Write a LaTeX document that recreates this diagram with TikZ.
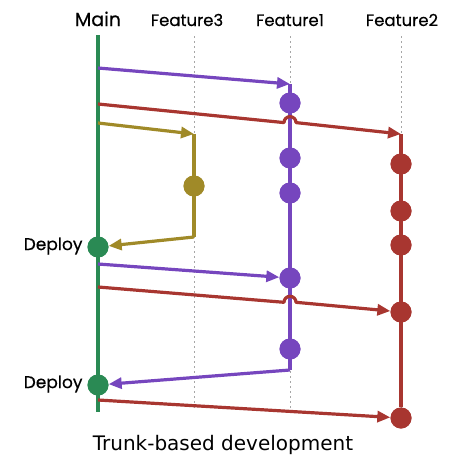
\documentclass[tikz,border=0pt]{standalone}
\usepackage{fontspec}
\setmainfont{Poppins}
\newfontfamily\lblfont{Poppins}[FakeBold=0.4]
\newfontfamily\capfont{DejaVu Sans}
\usetikzlibrary{arrows.meta}
\definecolor{cgreen}{RGB}{42,138,84}
\definecolor{cpurple}{RGB}{118,70,190}
\definecolor{cred}{RGB}{168,54,48}
\definecolor{colive}{RGB}{160,138,40}
\tikzset{
  lane/.style={draw=gray!70, line width=0.8pt, dash pattern=on 2pt off 3pt},
  br/.style={line width=3.2pt, line join=round},
  arr/.style={br, -{Triangle[length=13pt,width=11pt]}},
  commit/.style={circle, fill=#1, minimum size=21pt, inner sep=0pt},
  lbl/.style={font=\lblfont\fontsize{16.5}{18}\selectfont, anchor=base},
  dep/.style={font=\lblfont\fontsize{17}{19}\selectfont, anchor=east},
}
\begin{document}
\begin{tikzpicture}[x=1pt,y=-1pt]
\useasboundingbox (0,0) rectangle (454,466);
% labels
\node[font=\lblfont\fontsize{19}{21}\selectfont, anchor=base] (lmain) at (98,26) {Main};
\node[lbl] (lf3) at (187,26) {Feature3};
\node[lbl] (lf1) at (290,26) {Feature1};
\node[lbl] (lf2) at (402,26) {Feature2};
% lanes
\coordinate (f3t) at (194,36); \coordinate (f3b) at (194,410);
\coordinate (f1t) at (290,36); \coordinate (f1b) at (290,410);
\coordinate (f2t) at (401,36); \coordinate (f2b) at (401,410);
\draw[lane] (f3t) -- (f3b);
\draw[lane] (f1t) -- (f1b);
\draw[lane] (f2t) -- (f2b);
% main
\coordinate (mt) at (98,35); \coordinate (mb) at (98,412);
\draw[cgreen, line width=3.5pt] (mt) -- (mb);
% commits
\node[commit=cgreen] (d1) at (98,247) {};
\node[commit=cgreen] (d2) at (98,385) {};
\node[dep] (ld1) at (86,246) {Deploy};
\node[dep] (ld2) at (86,384) {Deploy};
\node[commit=cpurple] (p1) at (290,103) {};
\node[commit=cpurple] (p2) at (290,158) {};
\node[commit=cpurple] (p3) at (290,193) {};
\node[commit=cpurple] (p4) at (290,278) {};
\node[commit=cpurple] (p5) at (290,349) {};
\node[commit=cred] (r1) at (401,164) {};
\node[commit=cred] (r2) at (401,211) {};
\node[commit=cred] (r3) at (401,245) {};
\node[commit=cred] (r4) at (401,312) {};
\node[commit=cred] (r5) at (401,418) {};
\node[commit=colive] (o1) at (194,186) {};
% branch coordinates
\coordinate (ms1) at (98,68);  \coordinate (pb) at (290,84);  \coordinate (pe) at (290,370);
\coordinate (ms2) at (98,104); \coordinate (rb) at (401,134);
\coordinate (ms3) at (98,123); \coordinate (ob) at (194,134); \coordinate (oe) at (194,237);
\coordinate (ms4) at (98,264);
\coordinate (ms5) at (98,287);
\coordinate (ms6) at (98,400);
\coordinate (h1a) at (284,122.6);
\coordinate (h2a) at (284,302.3);
% purple
\draw[br, cpurple] (pb) -- (pe);
\draw[arr, cpurple] (ms1) -- (pb);
\draw[arr, cpurple] (ms4) -- (p4);
\draw[arr, cpurple] (pe) -- (d2);
% olive
\draw[br, colive] (ob) -- (oe);
\draw[arr, colive] (ms3) -- (ob);
\draw[arr, colive] (oe) -- (d1);
% red
\draw[br, cred] (rb) -- (r5);
\draw[arr, cred] (ms2) -- (h1a) arc[start angle=180, end angle=0, radius=6pt] -- (rb);
\draw[arr, cred] (ms5) -- (h2a) arc[start angle=180, end angle=0, radius=6pt] -- (r4);
\draw[arr, cred] (ms6) -- (r5);
% redraw commits on top
\foreach \n/\c in {d1/cgreen,d2/cgreen,p1/cpurple,p2/cpurple,p3/cpurple,p4/cpurple,p5/cpurple,r1/cred,r2/cred,r3/cred,r4/cred,r5/cred,o1/colive}
  \fill[\c] (\n) circle (10.5pt);
% caption
\node[font=\capfont\fontsize{20}{23}\selectfont] (cap) at (223,445) {Trunk-based development};
\end{tikzpicture}
\end{document}
